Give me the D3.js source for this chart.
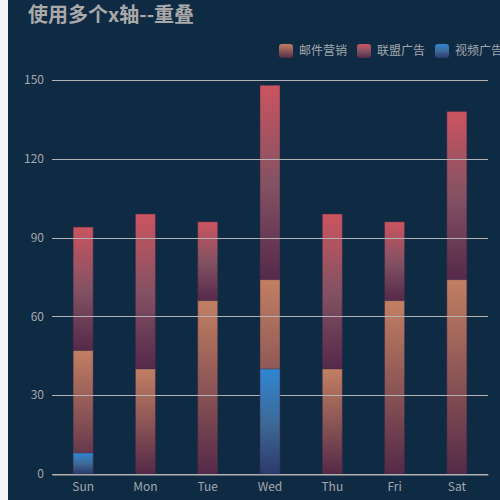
<!DOCTYPE html>
<html lang="zh">
<head>
    <meta charset="UTF-8">
    <title>使用多个x轴--重叠</title>
    <script src="https://d3js.org/d3.v7.min.js"></script>
    <style>
        html, body { margin: 0; padding: 0; background: #f3f5f9; }
        #chart { position: absolute; left: 8px; top: 0; }
    </style>
</head>
<body>
    <div id="chart"></div>
    <script>
        // Data
        const days = ["Sun", "Mon", "Tue", "Wed", "Thu", "Fri", "Sat"];
        const emailValues = [47, 40, 66, 74, 40, 66, 74];      // 邮件营销
        const unionValues = [47, 59, 30, 74, 59, 30, 64];      // 联盟广告 (stacked on 邮件营销)
        const videoValues = [8, 0, 0, 40, 0, 0, 0];            // 视频广告 (second x axis, overlapped)
        const yTicks = [0, 30, 60, 90, 120, 150];
        const seriesNames = ["邮件营销", "联盟广告", "视频广告"];

        const font = "'Noto Sans CJK SC', 'Noto Sans', sans-serif";
        const W = 492, H = 500;
        const margin = { top: 80, right: 12, bottom: 26, left: 44 };

        const svg = d3.select("#chart").append("svg")
            .attr("width", W)
            .attr("height", H)
            .style("display", "block");

        svg.append("rect").attr("width", W).attr("height", H).attr("fill", "#0f2a43");

        const defs = svg.append("defs");
        function gradient(id, top, mid, bottom) {
            const g = defs.append("linearGradient")
                .attr("id", id)
                .attr("x1", 0).attr("y1", 0).attr("x2", 0).attr("y2", 1);
            g.append("stop").attr("offset", "0%").attr("stop-color", top);
            g.append("stop").attr("offset", "50%").attr("stop-color", mid);
            g.append("stop").attr("offset", "100%").attr("stop-color", bottom);
        }
        gradient("gEmail", "#c27f62", "#8c5656", "#552a48");
        gradient("gUnion", "#cb5460", "#845263", "#55294a");
        gradient("gVideo", "#2f86d4", "#3e6a98", "#2b3a6c");

        const x = d3.scaleBand()
            .domain(days)
            .range([margin.left, W - margin.right]);

        const y = d3.scaleLinear()
            .domain([0, 150])
            .range([H - margin.bottom, margin.top]);

        const barW = 20;

        // stack 联盟广告 on 邮件营销
        const table = days.map((d, i) => ({ day: d, email: emailValues[i], union: unionValues[i] }));
        const stacked = d3.stack().keys(["email", "union"])(table);

        function drawBars(segs, fill) {
            svg.append("g")
                .selectAll("rect")
                .data(segs.filter(s => s[1] > s[0]))
                .join("rect")
                .attr("x", s => x(s.day) + x.bandwidth() / 2 - barW / 2)
                .attr("y", s => y(s[1]))
                .attr("width", barW)
                .attr("height", s => y(s[0]) - y(s[1]))
                .attr("fill", fill)
                .attr("stroke", "rgba(60,40,70,0.45)")
                .attr("stroke-width", 1);
        }

        const asSegs = s => s.map(p => Object.assign([p[0], p[1]], { day: p.data.day }));

        drawBars(asSegs(stacked[1]), "url(#gUnion)");
        drawBars(asSegs(stacked[0]), "url(#gEmail)");

        // Grid lines
        svg.append("g")
            .selectAll("line")
            .data(yTicks)
            .join("line")
            .attr("x1", margin.left)
            .attr("x2", W - margin.right)
            .attr("y1", d => Math.round(y(d)) + 0.5)
            .attr("y2", d => Math.round(y(d)) + 0.5)
            .attr("stroke", "#b3b3b3")
            .attr("stroke-width", 1);

        drawBars(videoValues.map((v, i) => Object.assign([0, v], { day: days[i] })), "url(#gVideo)");

        // Y labels
        svg.append("g")
            .selectAll("text")
            .data(yTicks)
            .join("text")
            .attr("x", margin.left - 8)
            .attr("y", d => y(d))
            .attr("dy", "0.35em")
            .attr("text-anchor", "end")
            .attr("fill", "#a3a8ae")
            .attr("font-family", font)
            .attr("font-size", 12)
            .text(d => d);

        // X axis
        const xAxis = svg.append("g")
            .attr("transform", `translate(0,${Math.round(y(0)) + 0.5})`)
            .call(d3.axisBottom(x).tickSize(0).tickPadding(8));
        xAxis.select(".domain").attr("stroke", "#b3b3b3");
        xAxis.selectAll("text")
            .attr("fill", "#a3a8ae")
            .attr("font-family", font)
            .attr("font-size", 12);

        // Title
        svg.append("text")
            .attr("x", 20)
            .attr("y", 22)
            .attr("fill", "#a9a9a9")
            .attr("font-family", font)
            .attr("font-weight", "bold")
            .attr("font-size", 20)
            .text("使用多个x轴--重叠");

        // Legend
        const legendFills = ["url(#gEmail)", "url(#gUnion)", "url(#gVideo)"];
        const legend = svg.append("g").attr("transform", "translate(271,44)");
        let lx = 0;
        seriesNames.forEach((name, i) => {
            const item = legend.append("g").attr("transform", `translate(${lx},0)`);
            item.append("rect")
                .attr("width", 14).attr("height", 14)
                .attr("rx", 3)
                .attr("fill", legendFills[i]);
            item.append("text")
                .attr("x", 20)
                .attr("y", 7)
                .attr("dy", "0.35em")
                .attr("fill", "#a3a8ae")
                .attr("font-family", font)
                .attr("font-size", 12)
                .text(name);
            lx += 78;
        });
    </script>
</body>
</html>
